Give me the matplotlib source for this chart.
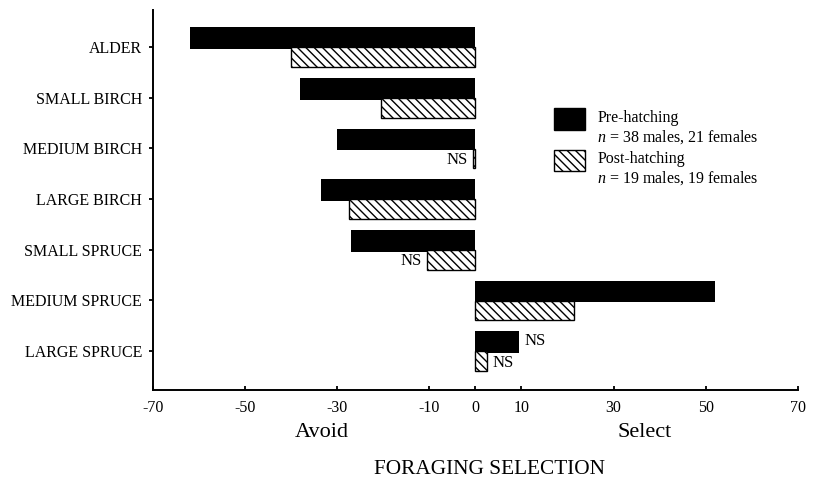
import matplotlib
matplotlib.use("Agg")
import matplotlib.pyplot as plt
import matplotlib.transforms as mtransforms
from matplotlib.patches import Patch, Rectangle
from matplotlib.legend_handler import HandlerPatch
import numpy as np

plt.rcParams['font.family'] = ['Liberation Serif', 'DejaVu Serif']
plt.rcParams['mathtext.fontset'] = 'custom'
plt.rcParams['mathtext.rm'] = 'Liberation Serif'
plt.rcParams['mathtext.it'] = 'Liberation Serif:italic'
plt.rcParams['hatch.linewidth'] = 1.0

# data
categories = ["ALDER", "SMALL BIRCH", "MEDIUM BIRCH", "LARGE BIRCH",
              "SMALL SPRUCE", "MEDIUM SPRUCE", "LARGE SPRUCE"]
pre_hatching = [-62, -38, -30, -33.5, -27, 52, 9.5]
post_hatching = [-40, -20.5, -0.5, -27.5, -10.5, 21.5, 2.5]
pre_ns = [False, False, False, False, False, False, True]
post_ns = [False, False, True, False, True, False, True]
xticks = [-70, -50, -30, -10, 0, 10, 30, 50, 70]

HATCH = '\\\\\\\\'

fig = plt.figure(figsize=(8.14, 4.79), dpi=100)
ax = fig.add_axes([0.188, 0.186, 0.792, 0.793])

y = np.arange(len(categories))[::-1]

ax.barh(y + 0.175, pre_hatching, height=0.43, color='black', linewidth=0)
ax.barh(y - 0.2, post_hatching, height=0.39, facecolor='white',
        edgecolor='black', hatch=HATCH, linewidth=1.0)


def mark_ns(vals, flags, yoff):
    for yi, v, f in zip(y, vals, flags):
        if not f:
            continue
        if v < 0:
            ax.annotate("NS", (v, yi + yoff), xytext=(-4, 0), textcoords='offset points',
                        ha='right', va='center', fontsize=12)
        else:
            ax.annotate("NS", (v, yi + yoff), xytext=(4, 0), textcoords='offset points',
                        ha='left', va='center', fontsize=12)


mark_ns(pre_hatching, pre_ns, 0.2)
mark_ns(post_hatching, post_ns, -0.23)

ax.set_xlim(-70, 70)
ax.set_ylim(-0.77, 6.73)
ax.set_xticks(xticks)
ax.set_xticklabels([str(t) for t in xticks], fontsize=11.5)
ax.set_yticks(y)
ax.set_yticklabels(categories, fontsize=11.5)
ax.tick_params(axis='y', direction='out', length=3, width=1.3, pad=5)
ax.tick_params(axis='x', direction='in', length=3, width=1.3, pad=7)

for s in ['top', 'right']:
    ax.spines[s].set_visible(False)
for s in ['left', 'bottom']:
    ax.spines[s].set_linewidth(1.4)

trans = mtransforms.blended_transform_factory(ax.transData, ax.transAxes)
ax.text(-33.3, -0.113, "Avoid", transform=trans, ha='center', va='center', fontsize=16)
ax.text(36.8, -0.113, "Select", transform=trans, ha='center', va='center', fontsize=16)
fig.text(0.601, 0.019, "FORAGING SELECTION", ha='center', va='center', fontsize=15.3)


# legend box sits beside the first line of each two-line label
def raised_box(legend, orig_handle, xdescent, ydescent, width, height, fontsize):
    return Rectangle((-xdescent, -ydescent + 0.62 * fontsize), width, height)


handles = [Patch(facecolor='black', edgecolor='black'),
           Patch(facecolor='white', edgecolor='black', hatch=HATCH, linewidth=1.0)]
labels = ["Pre-hatching\n$n$ = 38 males, 21 females",
          "Post-hatching\n$n$ = 19 males, 19 females"]
ax.legend(handles, labels, loc='upper left', bbox_to_anchor=(0.6, 0.775),
          frameon=False, fontsize=11.5, handlelength=1.9, handleheight=1.65,
          handletextpad=0.8, labelspacing=0.3,
          handler_map={Patch: HandlerPatch(patch_func=raised_box)})

fig.savefig("out.png", dpi=100)
